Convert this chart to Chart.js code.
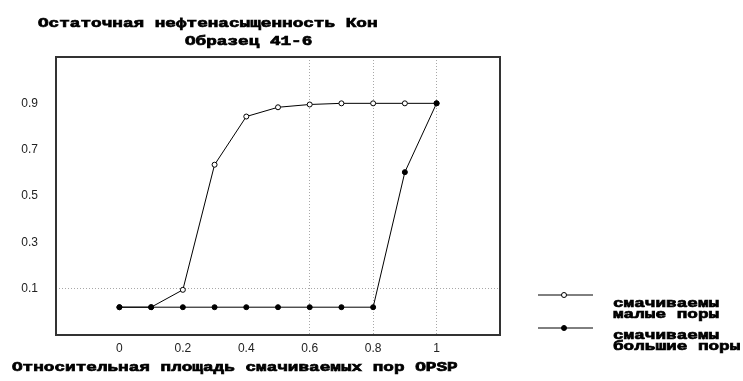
<!DOCTYPE html>
<html>
<head>
<meta charset="utf-8">
<script src="https://cdn.jsdelivr.net/npm/chart.js@4"></script>
<style>
  html, body { margin: 0; padding: 0; background: #fff; }
  canvas { display: block; }
</style>
</head>
<body>
<canvas id="poreChart" width="743" height="381"></canvas>
<script>
// OPSP values (x) and Кон values for both pore groups
const opsp = [0, 0.1, 0.2, 0.3, 0.4, 0.5, 0.6, 0.7, 0.8, 0.9, 1];
const smallPores = [0.02, 0.02, 0.095, 0.635, 0.843, 0.883, 0.895, 0.9, 0.9, 0.9, 0.9];
const largePores = [0.02, 0.02, 0.02, 0.02, 0.02, 0.02, 0.02, 0.02, 0.02, 0.603, 0.9];

const xTicks = [0, 0.2, 0.4, 0.6, 0.8, 1];
const yTicks = [0.1, 0.3, 0.5, 0.7, 0.9];
const xGridAt = [0.6, 0.8, 1];
const yGridAt = [0.1];

const titleLines = ['Остаточная нефтенасыщенность Кон', 'Образец 41-6'];
const xTitle = 'Относительная площадь смачиваемых пор OPSP';
const legendLines = [['смачиваемы', 'малые поры'], ['смачиваемы', 'большие поры']];

const toPoints = (ys) => opsp.map((x, i) => ({ x: x, y: ys[i] }));

// wide bold "bitmap" look: monospace stretched horizontally
function wideText(ctx, text, x, y) {
  ctx.save();
  ctx.font = 'bold 13px "Liberation Mono"';
  ctx.fillStyle = '#000';
  ctx.strokeStyle = '#000';
  ctx.lineWidth = 0.7;
  ctx.textBaseline = 'middle';
  ctx.textAlign = 'left';
  ctx.translate(x, y);
  ctx.scale(1.36, 1);
  ctx.fillText(text, 0, 0);
  ctx.strokeText(text, 0, 0);
  ctx.restore();
}

const decorations = {
  id: 'decorations',
  afterDraw(chart) {
    const ctx = chart.ctx;
    const area = chart.chartArea;

    // frame round the plot
    ctx.save();
    ctx.strokeStyle = '#333';
    ctx.lineWidth = 2;
    ctx.strokeRect(area.left, area.top, area.right - area.left, area.bottom - area.top);
    ctx.restore();

    wideText(ctx, titleLines[0], 38, 24);
    wideText(ctx, titleLines[1], 185, 41.5);
    wideText(ctx, xTitle, 12, 368);

    // legend
    const rows = [{ lineY: 295, textY: 303.5 }, { lineY: 328, textY: 336 }];
    chart.data.datasets.forEach((ds, i) => {
      const r = rows[i];
      ctx.save();
      ctx.strokeStyle = ds.borderColor;
      ctx.lineWidth = 1;
      ctx.beginPath();
      ctx.moveTo(538, r.lineY);
      ctx.lineTo(593, r.lineY);
      ctx.stroke();
      ctx.beginPath();
      ctx.arc(564, r.lineY, ds.pointRadius, 0, Math.PI * 2);
      ctx.fillStyle = ds.pointBackgroundColor;
      ctx.fill();
      ctx.strokeStyle = ds.pointBorderColor;
      ctx.stroke();
      ctx.restore();
      legendLines[i].forEach((line, j) => wideText(ctx, line, 613, r.textY + j * 11));
    });
  }
};

new Chart(document.getElementById('poreChart').getContext('2d'), {
  type: 'line',
  data: {
    datasets: [{
      label: legendLines[0].join(' '),
      data: toPoints(smallPores),
      borderColor: '#000',
      borderWidth: 1,
      pointRadius: 2.5,
      pointBackgroundColor: '#fff',
      pointBorderColor: '#000',
      pointBorderWidth: 1,
      order: 1
    }, {
      label: legendLines[1].join(' '),
      data: toPoints(largePores),
      borderColor: '#000',
      borderWidth: 1,
      pointRadius: 2.5,
      pointBackgroundColor: '#000',
      pointBorderColor: '#000',
      pointBorderWidth: 1,
      order: 0
    }]
  },
  options: {
    responsive: false,
    animation: false,
    layout: { padding: { left: 0, right: 243, top: 57, bottom: 0 } },
    plugins: {
      legend: { display: false },
      tooltip: { enabled: false },
      title: { display: false }
    },
    scales: {
      x: {
        type: 'linear',
        min: -0.2,
        max: 1.2,
        afterBuildTicks: (scale) => { scale.ticks = xTicks.map(v => ({ value: v })); },
        afterFit: (scale) => { scale.height = 46; },
        ticks: {
          padding: 6,
          color: '#222',
          font: { family: '"Liberation Sans"', size: 12 },
          callback: (v) => String(v)
        },
        grid: {
          drawTicks: false,
          lineWidth: 1,
          color: (c) => (c.tick && xGridAt.includes(c.tick.value)) ? '#a8a8a8' : 'rgba(0,0,0,0)'
        },
        border: { display: false, dash: [1, 2] }
      },
      y: {
        type: 'linear',
        min: -0.1,
        max: 1.1,
        afterBuildTicks: (scale) => { scale.ticks = yTicks.map(v => ({ value: v })); },
        afterFit: (scale) => { scale.width = 56; },
        ticks: {
          padding: 18,
          color: '#222',
          font: { family: '"Liberation Sans"', size: 12 },
          callback: (v) => String(v)
        },
        grid: {
          drawTicks: false,
          lineWidth: 1,
          color: (c) => (c.tick && yGridAt.includes(c.tick.value)) ? '#a8a8a8' : 'rgba(0,0,0,0)'
        },
        border: { display: false, dash: [1, 2] }
      }
    }
  },
  plugins: [decorations]
});
</script>
</body>
</html>
